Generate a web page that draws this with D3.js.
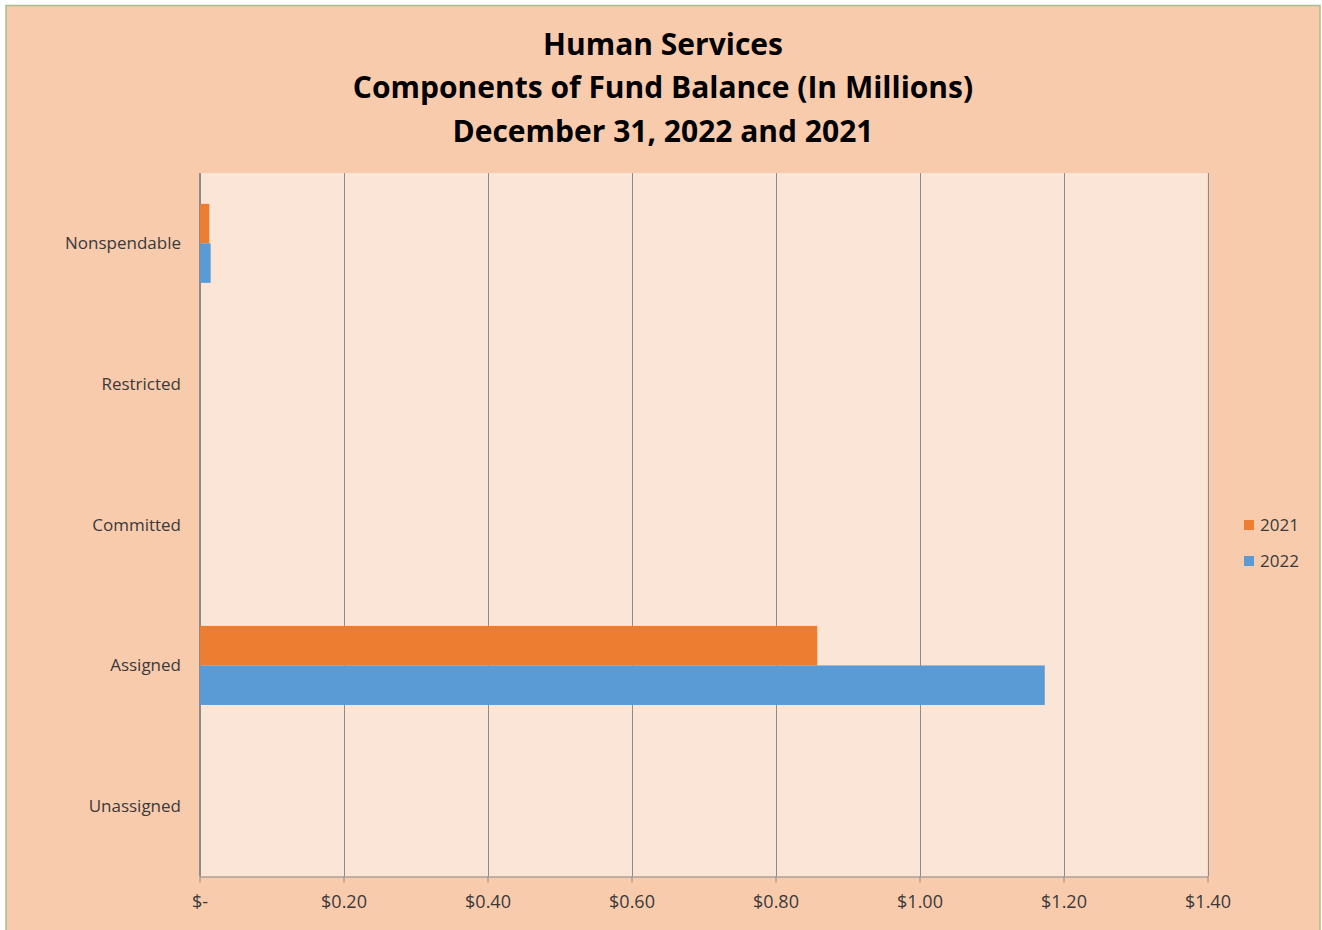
<!DOCTYPE html>
<html>
<head>
<meta charset="utf-8">
<script src="https://cdn.jsdelivr.net/npm/d3@7"></script>
<style>
  html, body { margin: 0; padding: 0; background: #ffffff; }
  svg { display: block; }
</style>
</head>
<body>
<svg id="chart" width="1322" height="930"></svg>
<script>
// Fund balance components, in millions of dollars
const categories = ["Nonspendable", "Restricted", "Committed", "Assigned", "Unassigned"];
const seriesNames = ["2021", "2022"];
const values2021 = [0.0136, 0, 0, 0.858, 0];
const values2022 = [0.0155, 0, 0, 1.174, 0];
const xTicks = [0, 0.2, 0.4, 0.6, 0.8, 1.0, 1.2, 1.4];
const titleLines = [
  "Human Services",
  "Components of Fund Balance (In Millions)",
  "December 31, 2022 and 2021"
];

const colors = { "2021": "#ed7d31", "2022": "#5b9bd5" };
const seriesValues = { "2021": values2021, "2022": values2022 };

const svg = d3.select("#chart");
const font = "'Open Sans', Lato, sans-serif";
const textColor = "#3a3a3a";

// chart area background + border
svg.append("rect")
  .attr("x", 6).attr("y", 5.5)
  .attr("width", 1314).attr("height", 940)
  .attr("fill", "#f8cbad")
  .attr("stroke", "#a9bf8a").attr("stroke-width", 1.5);

const plot = { left: 199.5, right: 1207.5, top: 173, bottom: 876.5 };

// plot area
svg.append("rect")
  .attr("x", plot.left).attr("y", plot.top)
  .attr("width", plot.right - plot.left).attr("height", plot.bottom - plot.top)
  .attr("fill", "#fbe5d6");

const x = d3.scaleLinear().domain([0, 1.4]).range([plot.left, plot.right]);
const y = d3.scaleBand().domain(categories).range([plot.top, plot.bottom]).paddingInner(0).paddingOuter(0);
const inner = d3.scaleBand().domain(seriesNames)
  .range([0, y.bandwidth()]).paddingInner(0).paddingOuter(0.78);

// vertical gridlines
svg.append("g").selectAll("line").data(xTicks).join("line")
  .attr("x1", d => Math.round(x(d)) + 0.5).attr("x2", d => Math.round(x(d)) + 0.5)
  .attr("y1", plot.top).attr("y2", plot.bottom)
  .attr("stroke", "#8c8c8c").attr("stroke-width", 1);

// bars
const groups = svg.append("g").selectAll("g").data(categories).join("g")
  .attr("transform", d => `translate(0,${y(d)})`);
groups.selectAll("rect")
  .data((c, i) => seriesNames.map(s => ({ s, v: seriesValues[s][i] })))
  .join("rect")
  .attr("x", x(0))
  .attr("y", d => inner(d.s))
  .attr("width", d => x(d.v) - x(0))
  .attr("height", inner.bandwidth())
  .attr("fill", d => colors[d.s]);

// bottom axis
const xAxis = d3.axisBottom(x)
  .tickValues(xTicks)
  .tickSize(6)
  .tickSizeOuter(0)
  .tickFormat(d => d === 0 ? "$-" : "$" + d.toFixed(2));
const gx = svg.append("g").attr("transform", `translate(0,${plot.bottom})`).call(xAxis);
gx.select(".domain").attr("stroke", "#8c8c8c");
gx.selectAll(".tick line").attr("stroke", "#8c8c8c");
gx.selectAll(".tick text")
  .attr("y", 19)
  .attr("fill", textColor)
  .attr("font-family", font)
  .attr("font-size", 18);

// left axis line
svg.append("line")
  .attr("x1", plot.left).attr("x2", plot.left)
  .attr("y1", plot.top).attr("y2", plot.bottom)
  .attr("stroke", "#8c8c8c");

// category labels
svg.append("g").selectAll("text").data(categories).join("text")
  .attr("x", 181)
  .attr("y", d => y(d) + y.bandwidth() / 2)
  .attr("dy", "0.35em")
  .attr("text-anchor", "end")
  .attr("fill", textColor)
  .attr("font-family", font)
  .attr("font-size", 17)
  .text(d => d);

// title
svg.append("g").selectAll("text").data(titleLines).join("text")
  .attr("x", 663)
  .attr("y", (d, i) => 54.5 + i * 43.5)
  .attr("text-anchor", "middle")
  .attr("fill", "#000000")
  .attr("font-family", font)
  .attr("font-weight", "bold")
  .attr("font-size", 30)
  .text(d => d);

// legend
const legend = svg.append("g").selectAll("g").data(seriesNames).join("g")
  .attr("transform", (d, i) => `translate(1244,${525 + i * 36})`);
legend.append("rect")
  .attr("x", 0).attr("y", -5).attr("width", 10).attr("height", 10)
  .attr("fill", d => colors[d]);
legend.append("text")
  .attr("x", 16).attr("y", 0).attr("dy", "0.35em")
  .attr("fill", textColor)
  .attr("font-family", font)
  .attr("font-size", 17)
  .text(d => d);
</script>
</body>
</html>
